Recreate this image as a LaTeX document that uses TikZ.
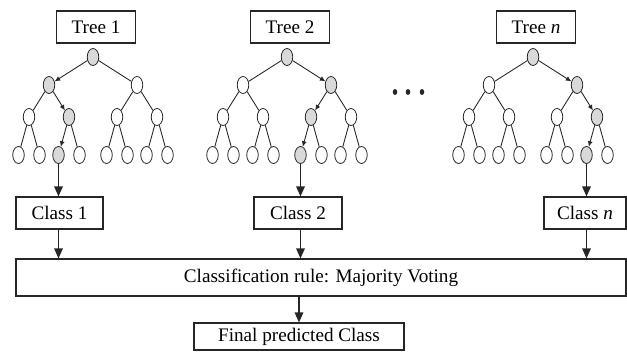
\documentclass[tikz,border=0pt]{standalone}
\usepackage{fontspec}
\setmainfont{Liberation Serif}
\usepackage{tikz}
\usetikzlibrary{arrows.meta,positioning,shapes.geometric}
\definecolor{hitgray}{gray}{0.85}
\definecolor{inkgray}{gray}{0.15}

\begin{document}
\begin{tikzpicture}[
    font=\fontsize{10.9}{13}\selectfont,
    box/.style={draw=inkgray, line width=0.6pt, minimum height=0.64cm, inner sep=0pt, align=center},
    leaf/.style={draw=inkgray, ellipse, line width=0.45pt, minimum width=0.23cm, minimum height=0.34cm, inner sep=0pt},
    twig/.style={draw=inkgray, line width=0.5pt},
    hop/.style={twig, -{Latex[length=1.1mm, width=1mm]}},
    arr/.style={-{Triangle[length=2mm, width=1.7mm]}, line width=0.85pt, inkgray},
]
    \useasboundingbox (0,0) rectangle (12.54,7.02);

    \node[box, minimum width=1.74cm] (c1) at (1.19, 2.76) {Class 1};
    \node[box, minimum width=1.76cm] (c2) at (5.96, 2.76) {Class 2};
    \node[box, minimum width=1.64cm] (cn) at (11.70, 2.76) {Class \textit{n}};
    \node[box, minimum width=12.2cm, minimum height=0.74cm] (vote) at (6.42, 1.47) {Classification rule: Majority Voting};
    \node[box, minimum width=4.2cm, minimum height=0.54cm] (final) at (5.98, 0.29) {Final predicted Class};

    % one tree per classifier, gray nodes mark the path taken
    \foreach \t/\lab/\cx/\a/\b/\c in {1/1/1.86/2/5/10, 2/2/5.74/3/6/12, n/\textit{n}/10.66/3/7/14} {
        \node[box, minimum width=1.58cm] (tree\t) at (\cx+0.06, 6.48) {Tree \lab};
        \foreach \i/\dx/\y in {1/0/5.88, 2/-0.88/5.32, 3/0.88/5.32,
                4/-1.28/4.68, 5/-0.48/4.68, 6/0.48/4.68, 7/1.28/4.68,
                8/-1.49/3.92, 9/-1.07/3.92, 10/-0.69/3.92, 11/-0.27/3.92,
                12/0.27/3.92, 13/0.69/3.92, 14/1.07/3.92, 15/1.49/3.92} {
            \pgfmathtruncatemacro\on{(\i==1)||(\i==\a)||(\i==\b)||(\i==\c)}
            \ifnum\on=1 \def\col{hitgray}\else\def\col{white}\fi
            \node[leaf, fill=\col] (t\t-\i) at (\cx+\dx, \y) {};
        }
        \foreach \i in {2,...,15} {
            \pgfmathtruncatemacro\p{\i/2}
            \pgfmathtruncatemacro\on{(\i==\a)||(\i==\b)||(\i==\c)}
            \ifnum\on=1 \draw[hop] (t\t-\p) -- (t\t-\i);
            \else \draw[twig] (t\t-\p) -- (t\t-\i); \fi
        }
        \draw[arr] (t\t-\c) -- (t\t-\c |- c\t.north);
        \draw[arr] (t\t-\c |- c\t.south) -- (t\t-\c |- vote.north);
    }

    \foreach \x in {7.90, 8.16, 8.44}
        \fill[inkgray] (\x, 5.18) ellipse [x radius=0.045, y radius=0.06];

    \draw[arr] (final.north |- vote.south) -- (final);
\end{tikzpicture}
\end{document}
